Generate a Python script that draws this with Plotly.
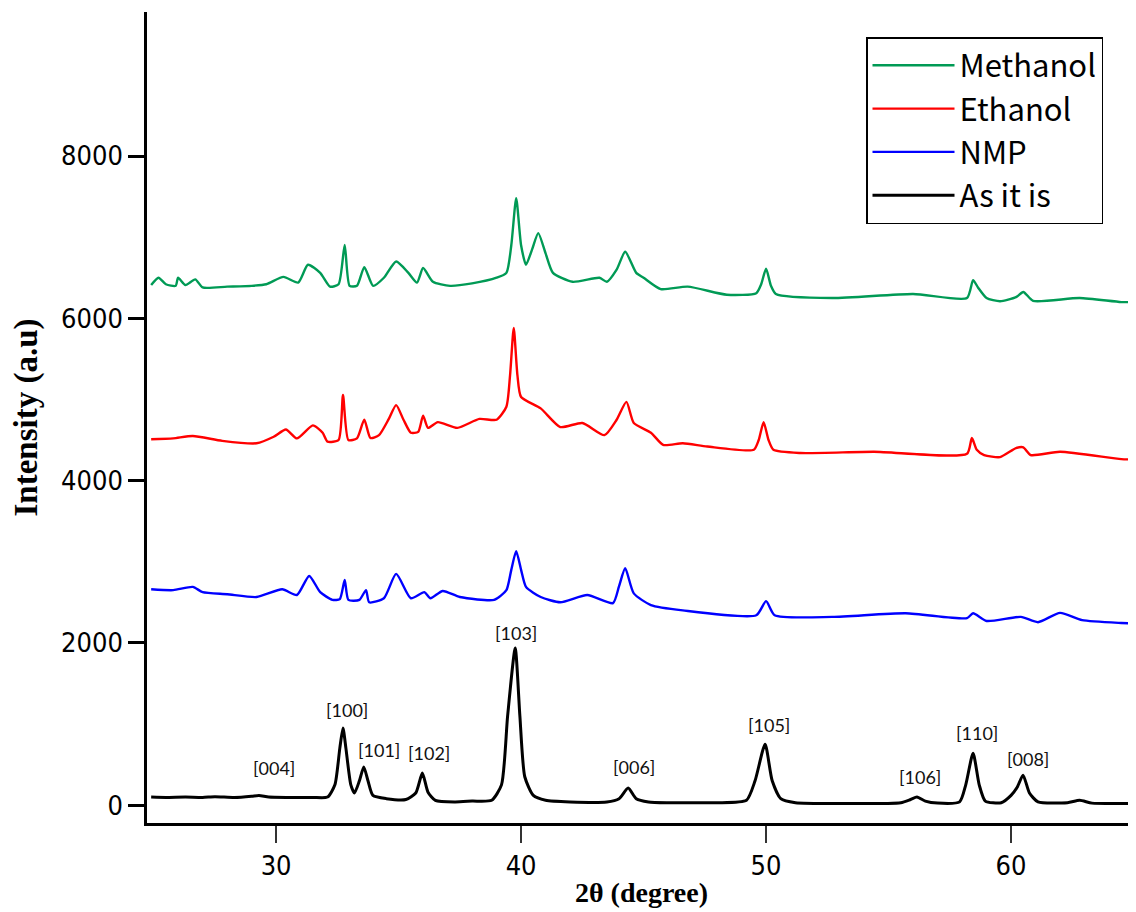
import plotly.graph_objects as go

# ---------------- data ----------------
two_theta_asis = [24.9, 25.5, 26.3, 27.0, 27.5, 28.3, 29.0, 29.3, 29.7, 30.5, 31.5, 32.1,
                  32.4, 32.6, 32.73, 32.85, 33.05, 33.2, 33.4, 33.58, 33.75, 33.95, 34.5,
                  35.3, 35.7, 35.97, 36.2, 36.5, 37.3, 38.0, 38.8, 39.2, 39.45, 39.76,
                  39.95, 40.15, 40.5, 41.0, 42.0, 43.5, 44.0, 44.37, 44.7, 45.2, 46.0,
                  47.0, 48.0, 49.2, 49.55, 49.96, 50.25, 50.6, 51.2, 53.0, 55.5, 55.9,
                  56.16, 56.5, 57.0, 57.9, 58.15, 58.45, 58.7, 58.95, 59.6, 60.0, 60.25,
                  60.49, 60.75, 61.1, 62.3, 62.8, 63.3, 64.5, 65.0]
intensity_asis = [100, 95, 100, 95, 105, 95, 110, 120, 100, 95, 95, 100,
                  250, 700, 950, 700, 250, 150, 300, 470, 300, 120, 80,
                  70, 150, 395, 160, 60, 40, 50, 60, 250, 1100, 1936,
                  1100, 350, 120, 60, 40, 40, 80, 210, 80, 40, 30,
                  30, 30, 60, 300, 750, 300, 80, 30, 20, 30, 70,
                  100, 50, 25, 40, 250, 640, 250, 50, 30, 120, 220,
                  370, 150, 40, 30, 60, 25, 20, 20]

two_theta_nmp = [24.9, 25.8, 26.6, 27.0, 28.0, 29.2, 30.25, 30.85, 31.35, 31.8, 32.3, 32.6,
                 32.8, 32.95, 33.4, 33.67, 33.8, 34.4, 34.9, 35.5, 36.05, 36.3, 36.8, 37.5,
                 38.9, 39.4, 39.6, 39.8, 40.0, 40.2, 40.8, 41.6, 42.7, 43.75, 44.0, 44.25,
                 44.6, 45.3, 46.6, 49.6, 50.0, 50.35, 52.7, 55.7, 58.2, 58.45, 59.0, 60.4,
                 61.1, 62.0, 62.9, 64.5, 65.0]
intensity_nmp = [2660, 2650, 2690, 2625, 2600, 2565, 2660, 2590, 2825, 2625, 2530, 2540,
                 2775, 2530, 2530, 2650, 2500, 2550, 2850, 2550, 2625, 2550, 2640, 2565,
                 2530, 2650, 2900, 3130, 2900, 2690, 2565, 2500, 2590, 2490, 2700, 2920,
                 2610, 2465, 2400, 2340, 2515, 2340, 2320, 2365, 2305, 2365, 2270, 2320,
                 2255, 2370, 2280, 2245, 2240]

two_theta_eth = [24.9, 25.8, 26.6, 27.8, 29.2, 29.9, 30.4, 30.85, 31.5, 31.9, 32.1, 32.55,
                 32.73, 32.95, 33.3, 33.6, 33.85, 34.2, 34.6, 34.9, 35.2, 35.5, 35.8, 36.0,
                 36.2, 36.6, 37.4, 38.3, 39.0, 39.4, 39.55, 39.7, 39.85, 40.0, 40.8, 41.6,
                 42.5, 43.4, 43.9, 44.3, 44.6, 45.3, 45.8, 46.6, 47.6, 49.5, 49.7, 49.9,
                 50.1, 50.3, 51.4, 54.4, 58.2, 58.4, 58.6, 58.9, 59.55, 60.2, 60.5, 60.8,
                 62.0, 64.5, 65.0]
intensity_eth = [4510, 4520, 4550, 4490, 4460, 4540, 4630, 4520, 4680, 4590, 4480, 4500,
                 5055, 4500, 4520, 4750, 4525, 4560, 4760, 4930, 4750, 4590, 4600, 4800,
                 4650, 4720, 4650, 4760, 4750, 4910, 5300, 5880, 5300, 5030, 4890, 4660,
                 4710, 4560, 4750, 4970, 4710, 4590, 4440, 4460, 4420, 4380, 4500, 4720,
                 4500, 4380, 4340, 4355, 4330, 4525, 4380, 4315, 4290, 4400, 4410, 4315,
                 4355, 4265, 4260]

two_theta_meth = [24.9, 25.2, 25.5, 25.9, 26.0, 26.3, 26.7, 27.0, 28.0, 29.0, 29.6, 30.3,
                  30.9, 31.3, 31.8, 32.2, 32.55, 32.8, 33.0, 33.3, 33.6, 33.96, 34.4, 34.9,
                  35.4, 35.75, 36.0, 36.4, 37.1, 38.0, 39.0, 39.4, 39.6, 39.8, 40.0, 40.2,
                  40.45, 40.7, 41.0, 41.3, 42.1, 43.2, 43.5, 43.9, 44.25, 44.7, 45.0, 45.7,
                  46.8, 48.4, 49.6, 49.8, 50.0, 50.2, 50.4, 52.7, 56.0, 58.2, 58.45, 58.65,
                  59.0, 59.55, 60.2, 60.5, 60.9, 62.8, 64.5, 65.0]
intensity_meth = [6410, 6500, 6420, 6400, 6500, 6410, 6480, 6380, 6390, 6400, 6420, 6510,
                  6440, 6660, 6560, 6390, 6420, 6905, 6400, 6400, 6630, 6400, 6500, 6700,
                  6560, 6440, 6620, 6450, 6400, 6430, 6500, 6560, 6900, 7480, 6900, 6660,
                  6850, 7050, 6800, 6560, 6450, 6500, 6450, 6600, 6820, 6560, 6500, 6360,
                  6390, 6290, 6310, 6420, 6610, 6400, 6300, 6250, 6300, 6250, 6470, 6380,
                  6250, 6210, 6260, 6325, 6215, 6250, 6200, 6200]

series_names = ["Methanol", "Ethanol", "NMP", "As it is"]
series_colors = ["#009A55", "#FF0000", "#0000FF", "#000000"]
series_widths = [2.4, 2.4, 2.4, 3.0]

peak_labels = ["[004]", "[100]", "[101]", "[102]", "[103]", "[006]", "[105]", "[106]", "[110]", "[008]"]
peak_label_x = [29.92, 32.9, 34.2, 36.25, 39.8, 44.6, 50.1, 56.3, 58.6, 60.7]
peak_label_y = [455, 1170, 680, 640, 2120, 470, 985, 345, 890, 570]

x_ticks = [30, 40, 50, 60]
y_ticks = [0, 2000, 4000, 6000, 8000]

# ---------------- figure ----------------
fig = go.Figure()
series = [
    (two_theta_meth, intensity_meth),
    (two_theta_eth, intensity_eth),
    (two_theta_nmp, intensity_nmp),
    (two_theta_asis, intensity_asis),
]
for (xs, ys), name, color, w in zip(series, series_names, series_colors, series_widths):
    fig.add_trace(go.Scatter(
        x=xs, y=ys, mode="lines", name=name,
        line=dict(color=color, width=w, shape="spline", smoothing=0.6),
    ))

for txt, lx, ly in zip(peak_labels, peak_label_x, peak_label_y):
    fig.add_annotation(x=lx, y=ly, xref="x", yref="y", text=txt, showarrow=False,
                       font=dict(family="Lato, Open Sans, sans-serif", size=18, color="#111"))

tick_font = dict(family="DejaVu Sans Condensed, Liberation Sans Narrow, Liberation Sans, sans-serif",
                 size=27, color="black")
serif = "Liberation Serif, Times New Roman, serif"

# the page body adds an 8px offset, so the figure is sized to fit inside the window
fig.update_layout(
    width=1128, height=904,
    margin=dict(l=139, r=0, t=4, b=89),
    paper_bgcolor="white", plot_bgcolor="white",
    showlegend=True,
    legend=dict(
        x=0.727, y=0.969, xanchor="left", yanchor="top",
        bordercolor="black", borderwidth=1.5, bgcolor="white",
        font=dict(family="Noto Sans CJK JP, Noto Sans, sans-serif", size=31, color="black"),
        itemwidth=82, tracegroupgap=0,
    ),
    xaxis=dict(
        range=[24.73, 65.1], showgrid=False, zeroline=False, automargin=False,
        showline=True, linecolor="black", linewidth=2.5,
        ticks="outside", ticklen=17, tickwidth=2, tickcolor="#333",
        tickvals=x_ticks, tickfont=tick_font,
        title=dict(text="<b>2θ (degree)</b>", font=dict(family=serif, size=28, color="black"), standoff=3),
    ),
    yaxis=dict(
        range=[-220, 9775], showgrid=False, zeroline=False, automargin=False,
        showline=True, linecolor="black", linewidth=2.5,
        ticks="outside", ticklen=16, tickwidth=3, tickcolor="black",
        tickvals=y_ticks, tickformat="d", tickfont=tick_font,
        title=dict(text="<b>Intensity (a.u)</b>", font=dict(family=serif, size=33, color="black"), standoff=18),
    ),
)

fig.write_html("out.html")
